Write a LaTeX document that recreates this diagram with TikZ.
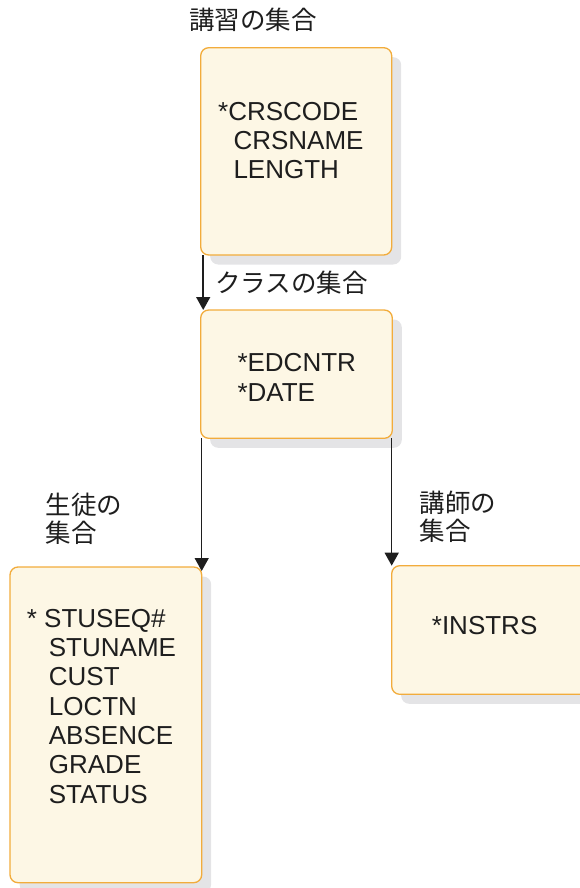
\documentclass[tikz,border=0pt]{standalone}
\usepackage{fontspec}
\setmainfont{Liberation Sans}
\newfontfamily\cjk{Noto Sans CJK JP}
\usetikzlibrary{arrows.meta,shadows}
\definecolor{boxfill}{HTML}{FDF7E5}
\definecolor{boxline}{HTML}{F2AC3C}
\definecolor{shgray}{HTML}{E4E4E6}
\definecolor{ink}{HTML}{1E1E1E}
\tikzset{
  entity/.style={draw=boxline, fill=boxfill, line width=1.3pt, rounded corners=8pt,
    anchor=north west, inner sep=0pt, outer sep=0pt,
    drop shadow={shadow xshift=9.5pt, shadow yshift=-9.5pt, fill=shgray, opacity=1}},
  fields/.style={anchor=north west, inner sep=0pt, align=left, text=ink,
    font=\fontsize{26}{29.3}\selectfont},
  setlabel/.style={anchor=west, inner sep=0pt, align=left, text=ink,
    font=\cjk\fontsize{25.5}{28}\selectfont},
  rel/.style={draw=ink, line width=1.5pt, -{Triangle[length=13pt,width=14pt]}}
}
\begin{document}
\begin{tikzpicture}[x=1pt,y=-1pt]
\useasboundingbox (0,0) rectangle (580,888);
\clip (0,0) rectangle (580,888);
% boxes
\node[entity, minimum width=191pt, minimum height=207.3pt] (b1) at (200.7,47.7) {};
\node[entity, minimum width=191.6pt, minimum height=128.3pt] (b2) at (200.7,310) {};
\node[entity, minimum width=191.7pt, minimum height=315.7pt] (b3) at (10,567) {};
\node[entity, minimum width=200pt, minimum height=128.6pt] (b4) at (391.7,565.7) {};
% field texts
\node[fields] (t1) at (218,102) {*CRSCODE\\\hspace*{15.3pt}CRSNAME\\\hspace*{15.3pt}LENGTH};
\node[fields] (t2) at (237.3,353.5) {*EDCNTR\\*DATE};
\node[fields] (t3) at (26.7,609) {* STUSEQ\#\\\hspace*{22pt}STUNAME\\\hspace*{22pt}CUST\\\hspace*{22pt}LOCTN\\\hspace*{22pt}ABSENCE\\\hspace*{22pt}GRADE\\\hspace*{22pt}STATUS};
\node[fields] (t4) at (431.7,616.5) {*INSTRS};
% set labels
\node[setlabel] (l1) at (189,20) {講習の集合};
\node[setlabel] (l2) at (215,283) {クラスの集合};
\node[setlabel] (l3) at (45.7,519) {生徒の\\集合};
\node[setlabel] (l4) at (419.3,516.5) {講師の\\集合};
% connectors
\draw[rel] ([xshift=2.5pt]b1.south west) -- ([xshift=2.5pt]b2.north west);
\draw[rel] (b3.north east |- b2.south) -- ([yshift=-4pt]b3.north east);
\draw[rel] (b4.north west |- b2.south) -- (b4.north west);
\end{tikzpicture}
\end{document}
